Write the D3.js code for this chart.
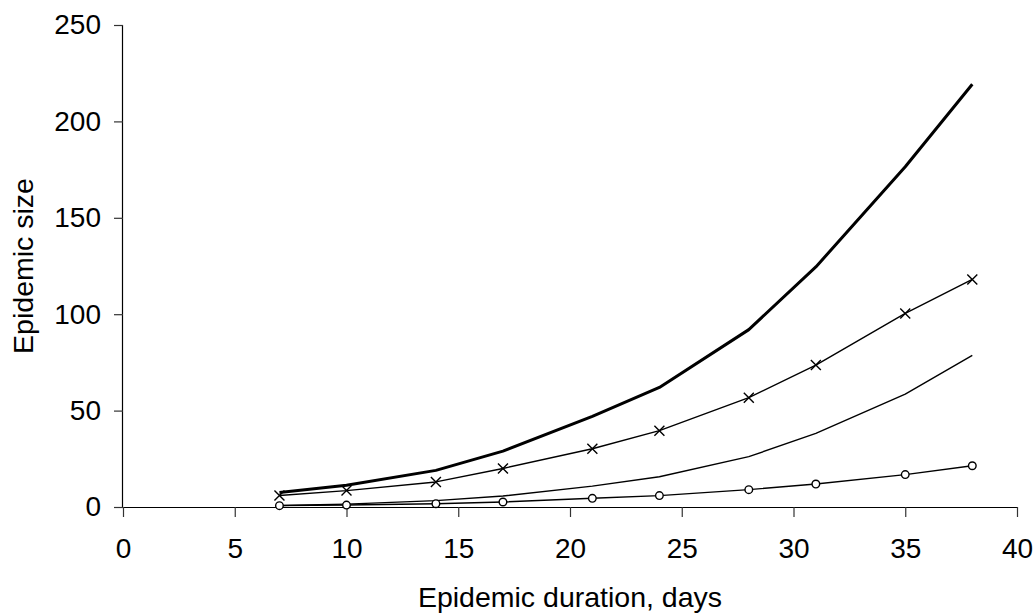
<!DOCTYPE html>
<html lang="en">
<head>
    <meta charset="UTF-8">
    <title>Epidemic size</title>
    <style>
        body { margin: 0; background-color: #fff; }
        svg { display: block; }
        .axis text { font-family: Arial, "Liberation Sans", sans-serif; font-size: 28px; fill: #000; }
        .title { font-family: Arial, "Liberation Sans", sans-serif; font-size: 28.5px; fill: #000; }
        .series { fill: none; stroke: #000; stroke-linejoin: round; }
    </style>
</head>
<body>
<script src="https://d3js.org/d3.v7.min.js"></script>
<script>
    // epidemic duration (days) on x
    var days = [7, 10, 14, 17, 21, 24, 28, 31, 35, 38];

    // four curves
    var sizeThick  = [7.5, 11.3, 19, 29, 47, 62, 92, 124.5, 176.5, 219.3];
    var sizeCross  = [6, 8.5, 13, 20, 30.2, 39.6, 56.7, 73.6, 100.4, 118];
    var sizeThin   = [0.8, 1.5, 3.3, 5.7, 10.8, 15.7, 26.1, 38.2, 58.6, 78.6];
    var sizeCircle = [0.7, 1.0, 1.7, 2.6, 4.5, 5.9, 9.0, 11.9, 16.8, 21.4];

    var xTicks = [0, 5, 10, 15, 20, 25, 30, 35, 40];
    var yTicks = [0, 50, 100, 150, 200, 250];

    var width = 1036, height = 613;
    var margin = {left: 123, right: 19, top: 25, bottom: 106};

    var svg = d3.select("body")
        .append("svg")
        .attr("width", width)
        .attr("height", height);

    var x = d3.scaleLinear()
        .domain([0, 40])
        .range([margin.left, width - margin.right]);

    var y = d3.scaleLinear()
        .domain([0, 250])
        .range([height - margin.bottom, margin.top]);

    // axes
    var xAxis = svg.append("g")
        .attr("class", "axis")
        .attr("transform", "translate(0," + y(0) + ")")
        .call(d3.axisBottom(x).tickValues(xTicks).tickSize(10).tickPadding(21).tickFormat(d3.format("d")));

    var yAxis = svg.append("g")
        .attr("class", "axis")
        .attr("transform", "translate(" + x(0) + ",0)")
        .call(d3.axisLeft(y).tickValues(yTicks).tickSize(9).tickPadding(13).tickFormat(d3.format("d")));

    svg.selectAll(".axis .domain").attr("stroke", "#000").attr("stroke-width", 1.2);
    svg.selectAll(".axis .tick line").attr("stroke", "#333").attr("stroke-width", 1.2);
    // kill the outer ticks d3 draws on the domain path
    xAxis.select(".domain").attr("d", "M" + x(0) + ",0.5H" + x(40));
    yAxis.select(".domain").attr("d", "M-0.5," + y(250) + "V" + y(0));

    // axis titles
    svg.append("text")
        .attr("class", "title")
        .attr("x", (x(0) + x(40)) / 2)
        .attr("y", 606.5)
        .attr("text-anchor", "middle")
        .text("Epidemic duration, days");

    svg.append("text")
        .attr("class", "title")
        .attr("transform", "translate(33," + ((y(0) + y(250)) / 2) + ") rotate(-90)")
        .attr("text-anchor", "middle")
        .text("Epidemic size");

    function pts(values) {
        return days.map(function (d, i) { return [d, values[i]]; });
    }

    var line = d3.line()
        .x(function (d) { return x(d[0]); })
        .y(function (d) { return y(d[1]); });

    svg.append("path").attr("class", "series").attr("d", line(pts(sizeThin))).attr("stroke-width", 1.4);
    svg.append("path").attr("class", "series").attr("d", line(pts(sizeCircle))).attr("stroke-width", 1.4);
    svg.append("path").attr("class", "series").attr("d", line(pts(sizeCross))).attr("stroke-width", 1.4);
    svg.append("path").attr("class", "series").attr("d", line(pts(sizeThick))).attr("stroke-width", 3);

    // cross markers
    svg.append("g").selectAll("path")
        .data(pts(sizeCross))
        .enter()
        .append("path")
        .attr("d", function () {
            var s = 5;
            return "M" + (-s) + "," + (-s) + "L" + s + "," + s + "M" + (-s) + "," + s + "L" + s + "," + (-s);
        })
        .attr("transform", function (d) { return "translate(" + x(d[0]) + "," + y(d[1]) + ")"; })
        .attr("stroke", "#000")
        .attr("stroke-width", 1.4)
        .attr("fill", "none");

    // circle markers
    svg.append("g").selectAll("circle")
        .data(pts(sizeCircle))
        .enter()
        .append("circle")
        .attr("cx", function (d) { return x(d[0]); })
        .attr("cy", function (d) { return y(d[1]); })
        .attr("r", 3.8)
        .attr("fill", "#fff")
        .attr("stroke", "#000")
        .attr("stroke-width", 1.4);
</script>
</body>
</html>
